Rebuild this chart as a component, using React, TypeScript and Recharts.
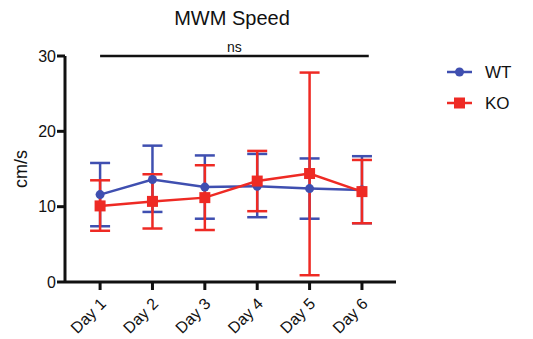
import React from 'react';
import { ComposedChart, Line, XAxis, YAxis, ErrorBar, ReferenceLine } from 'recharts';

const days = ['Day 1', 'Day 2', 'Day 3', 'Day 4', 'Day 5', 'Day 6'];

const wtMean = [11.6, 13.6, 12.6, 12.7, 12.4, 12.2];
const wtUpper = [15.8, 18.1, 16.8, 17.0, 16.4, 16.7];
const wtLower = [7.4, 9.3, 8.4, 8.6, 8.4, 7.8];

const koMean = [10.1, 10.7, 11.2, 13.4, 14.4, 12.0];
const koUpper = [13.5, 14.3, 15.5, 17.4, 27.8, 16.2];
const koLower = [6.8, 7.1, 6.9, 9.4, 0.9, 7.8];

const yTicks = [0, 10, 20, 30];

const BLUE = '#3f4fb0';
const RED = '#ee2a24';
const FONT = 'Liberation Sans, Arial, Helvetica, sans-serif';

const data = days.map((d, i) => ({
  x: i + 1,
  wt: wtMean[i],
  wtErr: [wtMean[i] - wtLower[i], wtUpper[i] - wtMean[i]],
  ko: koMean[i],
  koErr: [koMean[i] - koLower[i], koUpper[i] - koMean[i]],
}));

const SquareDot = (props: any) => {
  const { cx, cy } = props;
  if (cx == null || cy == null) return null;
  return <rect x={cx - 5.5} y={cy - 5.5} width={11} height={11} fill={RED} />;
};

const DayTick = (props: any) => {
  const { x, y, payload } = props;
  return (
    <g transform={`translate(${x + 4},${y + 10})`}>
      <text
        x={0}
        y={0}
        dy={4}
        textAnchor="end"
        transform="rotate(-45)"
        fontSize={16}
        fontFamily={FONT}
        fill="#111"
      >
        {days[payload.value - 1]}
      </text>
    </g>
  );
};

const LegendBox = () => (
  <svg width={90} height={60} style={{ position: 'absolute', left: 445, top: 60 }}>
    <line x1={2} y1={12} x2={27} y2={12} stroke={BLUE} strokeWidth={2.5} />
    <circle cx={14.5} cy={12} r={4.5} fill={BLUE} />
    <text x={40} y={18} fontSize={17} fontFamily={FONT} fill="#111">WT</text>
    <line x1={2} y1={43} x2={27} y2={43} stroke={RED} strokeWidth={2.5} />
    <rect x={9} y={37.5} width={11} height={11} fill={RED} />
    <text x={40} y={49} fontSize={17} fontFamily={FONT} fill="#111">KO</text>
  </svg>
);

export default function App() {
  return (
    <div style={{ position: 'absolute', left: 0, top: 0, width: 533, height: 339, background: '#fff' }}>
      <div
        style={{
          position: 'absolute',
          left: 132,
          width: 200,
          top: 7,
          textAlign: 'center',
          fontFamily: FONT,
          fontSize: 20,
          color: '#111',
        }}
      >
        MWM Speed
      </div>
      <ComposedChart
        width={533}
        height={339}
        data={data}
        margin={{ top: 56, right: 137, bottom: 0, left: 25 }}
      >
        <XAxis
          dataKey="x"
          type="number"
          domain={[0.33, 6.65]}
          ticks={[1, 2, 3, 4, 5, 6]}
          allowDataOverflow
          height={57}
          axisLine={{ stroke: '#111', strokeWidth: 3 }}
          tickLine={{ stroke: '#111', strokeWidth: 3 }}
          tickSize={8}
          tick={<DayTick />}
        />
        <YAxis
          domain={[0, 30]}
          ticks={yTicks}
          width={40}
          axisLine={{ stroke: '#111', strokeWidth: 3 }}
          tickLine={{ stroke: '#111', strokeWidth: 3 }}
          tickSize={8}
          tickMargin={1}
          tick={{ fontSize: 16, fontFamily: FONT, fill: '#111' }}
          label={{
            value: 'cm/s',
            angle: -90,
            position: 'insideLeft',
            offset: -4,
            style: { textAnchor: 'middle', fontSize: 18, fontFamily: FONT, fill: '#111' },
          }}
        />
        <ReferenceLine
          segment={[{ x: 1, y: 30 }, { x: 6.13, y: 30 }]}
          stroke="#111"
          strokeWidth={2.5}
          ifOverflow="visible"
          label={{ value: 'ns', position: 'top', offset: 4, fontSize: 14, fontFamily: FONT, fill: '#111' }}
        />
        <Line
          dataKey="wt"
          name="WT"
          stroke={BLUE}
          strokeWidth={2.5}
          dot={{ r: 4.5, fill: BLUE, stroke: BLUE, strokeWidth: 0 }}
          isAnimationActive={false}
        >
          <ErrorBar dataKey="wtErr" direction="y" width={10} stroke={BLUE} strokeWidth={2.5} />
        </Line>
        <Line
          dataKey="ko"
          name="KO"
          stroke={RED}
          strokeWidth={2.5}
          dot={<SquareDot />}
          isAnimationActive={false}
        >
          <ErrorBar dataKey="koErr" direction="y" width={10} stroke={RED} strokeWidth={2.5} />
        </Line>
      </ComposedChart>
      <LegendBox />
    </div>
  );
}
